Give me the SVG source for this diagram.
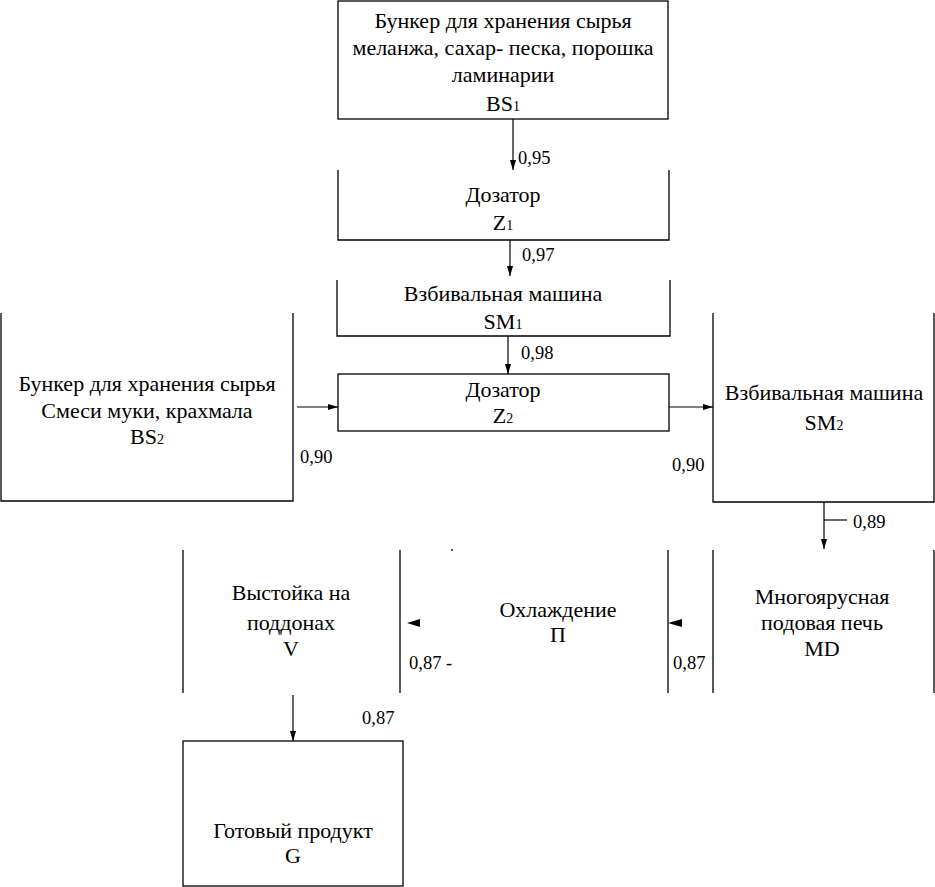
<svg xmlns="http://www.w3.org/2000/svg" width="935" height="887" viewBox="0 0 935 887" font-family="'Liberation Serif', 'Times New Roman', Tinos, 'DejaVu Serif', serif">
<style>
.b{fill:none;stroke:#000;stroke-width:1.3}
.c{fill:none;stroke:#000;stroke-width:1.2}
.t{font-size:22px;fill:#000;text-anchor:middle}
.l{font-size:18.5px;fill:#000}
.s{font-size:14px}
</style>
<defs>
<marker id="ah" markerUnits="userSpaceOnUse" markerWidth="10" markerHeight="14" refX="13" refY="4" orient="auto" viewBox="0 0 13 8">
<path d="M0,0 L13,4 L0,8 Z" fill="#000"/>
</marker>
</defs>
<rect width="935" height="887" fill="#fff"/>
<g id="BS1">
<rect class="b" x="338" y="1" width="330" height="118"/>
<text class="t" x="503" y="28">Бункер для хранения сырья</text>
<text class="t" x="503" y="55">меланжа, сахар- песка, порошка</text>
<text class="t" x="503" y="82">ламинарии</text>
<text class="t" x="503" y="111">BS<tspan class="s">1</tspan></text>
</g>
<g id="Z1">
<path class="b" d="M338,170 V240 H669 V170"/>
<text class="t" x="503" y="202">Дозатор</text>
<text class="t" x="503" y="230">Z<tspan class="s">1</tspan></text>
</g>
<g id="SM1">
<path class="b" d="M337,280 V336 H670 V280"/>
<text class="t" x="503" y="301">Взбивальная машина</text>
<text class="t" x="503" y="329">SM<tspan class="s">1</tspan></text>
</g>
<g id="Z2">
<rect class="b" x="338" y="374" width="331" height="57"/>
<text class="t" x="503" y="397">Дозатор</text>
<text class="t" x="503" y="423">Z<tspan class="s">2</tspan></text>
</g>
<g id="BS2">
<path class="b" d="M1,313 V501 H293 V313"/>
<text class="t" x="147" y="391">Бункер для хранения сырья</text>
<text class="t" x="147" y="418">Смеси муки, крахмала</text>
<text class="t" x="147" y="444">BS<tspan class="s">2</tspan></text>
</g>
<g id="SM2">
<path class="b" d="M713,313 V502 H934 V313"/>
<text class="t" x="824" y="400">Взбивальная машина</text>
<text class="t" x="824" y="430">SM<tspan class="s">2</tspan></text>
</g>
<g id="V">
<path class="b" d="M183,550 V693 M400,550 V693"/>
<text class="t" x="291" y="600">Выстойка на</text>
<text class="t" x="291" y="630">поддонах</text>
<text class="t" x="291" y="656">V</text>
</g>
<g id="P">
<path class="b" d="M668,550 V693 M452,549 V551"/>
<text class="t" x="558" y="617">Охлаждение</text>
<text class="t" x="558" y="642">П</text>
</g>
<g id="MD">
<path class="b" d="M713,550 V693 M934,550 V693"/>
<text class="t" x="822" y="604">Многоярусная</text>
<text class="t" x="822" y="630">подовая печь</text>
<text class="t" x="822" y="656">MD</text>
</g>
<g id="G">
<rect class="b" x="183" y="741" width="220" height="145"/>
<text class="t" x="293" y="838">Готовый продукт</text>
<text class="t" x="293" y="863">G</text>
</g>
<g id="connectors">
<line class="c" x1="513" y1="119" x2="513" y2="170" marker-end="url(#ah)"/>
<line class="c" x1="510" y1="240" x2="510" y2="276" marker-end="url(#ah)"/>
<line class="c" x1="508" y1="336" x2="508" y2="374" marker-end="url(#ah)"/>
<line class="c" x1="297" y1="407" x2="338" y2="407" marker-end="url(#ah)"/>
<line class="c" x1="669" y1="407" x2="713" y2="407" marker-end="url(#ah)"/>
<line class="c" x1="824" y1="502" x2="824" y2="549" marker-end="url(#ah)"/>
<line class="c" x1="824" y1="520" x2="847" y2="520"/>
<line class="c" x1="293" y1="695" x2="293" y2="741" marker-end="url(#ah)"/>
<path d="M407,623 L420,619 L420,627 Z" fill="#000"/>
<path d="M668,623 L682,619 L682,627 Z" fill="#000"/>
</g>
<g id="labels">
<text class="l" x="518" y="164">0,95</text>
<text class="l" x="522" y="261">0,97</text>
<text class="l" x="521" y="359">0,98</text>
<text class="l" x="300" y="463">0,90</text>
<text class="l" x="672" y="471">0,90</text>
<text class="l" x="853" y="528">0,89</text>
<text class="l" x="409" y="669">0,87 -</text>
<text class="l" x="673" y="669">0,87</text>
<text class="l" x="362" y="724">0,87</text>
</g>
</svg>
